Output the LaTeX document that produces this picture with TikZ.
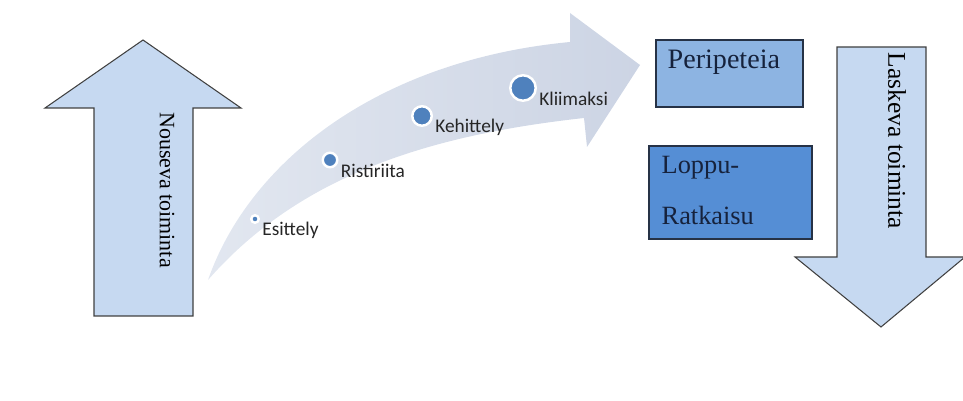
\documentclass[tikz,border=0pt]{standalone}
\usepackage{fontspec}
\newfontfamily\timesfont{Liberation Serif}
\newfontfamily\calfont{Carlito}
\usetikzlibrary{positioning}

\definecolor{arrowblue}{RGB}{198,217,241}
\definecolor{arrowline}{RGB}{64,64,64}
\definecolor{perifill}{RGB}{141,180,226}
\definecolor{loppufill}{RGB}{85,142,213}
\definecolor{boxline}{RGB}{38,50,70}
\definecolor{boxtext}{RGB}{22,34,60}
\definecolor{dotblue}{RGB}{79,129,189}
\definecolor{curvetail}{RGB}{226,231,240}
\definecolor{curvehead}{RGB}{204,212,228}

\begin{document}
\begin{tikzpicture}[
	x=0.02cm,
	y=-0.02cm,
	bigarrow/.style={
		draw=arrowline,
		line width=0.6pt,
		fill=arrowblue,
		line join=miter
	},
	curve/.style={
		left color=curvetail,
		right color=curvehead
	},
	sidetext/.style={
		font=\timesfont,
		text=black,
		rotate=-90,
		inner sep=0pt
	},
	phase/.style={
		rectangle,
		draw=boxline,
		line width=0.8pt,
		inner sep=0pt
	},
	phasetext/.style={
		font=\timesfont,
		text=boxtext,
		align=left,
		inner sep=0pt
	},
	dot/.style={
		circle,
		fill=dotblue,
		draw=white,
		line width=1.4pt,
		inner sep=0pt
	},
	stage/.style={
		font=\calfont\fontsize{11}{13}\selectfont,
		text=black!85,
		anchor=west,
		inner sep=0pt
	}
]
\useasboundingbox (0,0) rectangle (963,401);

% Rising action
\draw[bigarrow] (94,316) -- (94,108) -- (45,108) -- (143,40) -- (241,108)
	-- (193,108) -- (193,316) -- cycle;
\node[sidetext, font=\timesfont\fontsize{12.5}{15}\selectfont] (nouseva) at (167,190) {Nouseva toiminta};

% Plot curve
\path[curve] (208,280) .. controls (250,160) and (380,60) .. (570,42)
	-- (570,13) -- (640,65) -- (587,147) -- (584,118)
	.. controls (430,135) and (300,175) .. (208,280) -- cycle;

\foreach \nm/\px/\py/\sz/\txt in {
		esit/255/219/0.15/Esittely,
		risti/330/160/0.29/Ristiriita,
		kehi/422/116/0.39/Kehittely,
		klii/523/88/0.51/Kliimaksi} {
	\node[dot, minimum size=\sz cm] (\nm) at (\px,\py) {};
	\node[stage] (\nm-txt) at ([shift={(2,11)}]\nm.east) {\txt};
}

% Turning point and resolution
\node[phase, fill=perifill, minimum width=2.94cm, minimum height=1.34cm] (peri) at (729.5,73.5) {};
\node[phasetext, font=\timesfont\fontsize{16}{19}\selectfont, below right=0.2cm and 0.24cm of peri.north west] (peri-txt) {Peripeteia};

\node[phase, fill=loppufill, minimum width=3.26cm, minimum height=1.86cm] (loppu) at (730.5,192.5) {};
\node[phasetext, font=\timesfont\fontsize{15}{29}\selectfont, below right=0.22cm and 0.26cm of loppu.north west] (loppu-txt) {Loppu-\\Ratkaisu};

% Falling action
\draw[bigarrow] (837,47) -- (837,257) -- (795,257) -- (881,327) -- (965,257)
	-- (926,257) -- (926,47) -- cycle;
\node[sidetext, font=\timesfont\fontsize{14.5}{17}\selectfont] (laskeva) at (897,141) {Laskeva toiminta};

\end{tikzpicture}
\end{document}
